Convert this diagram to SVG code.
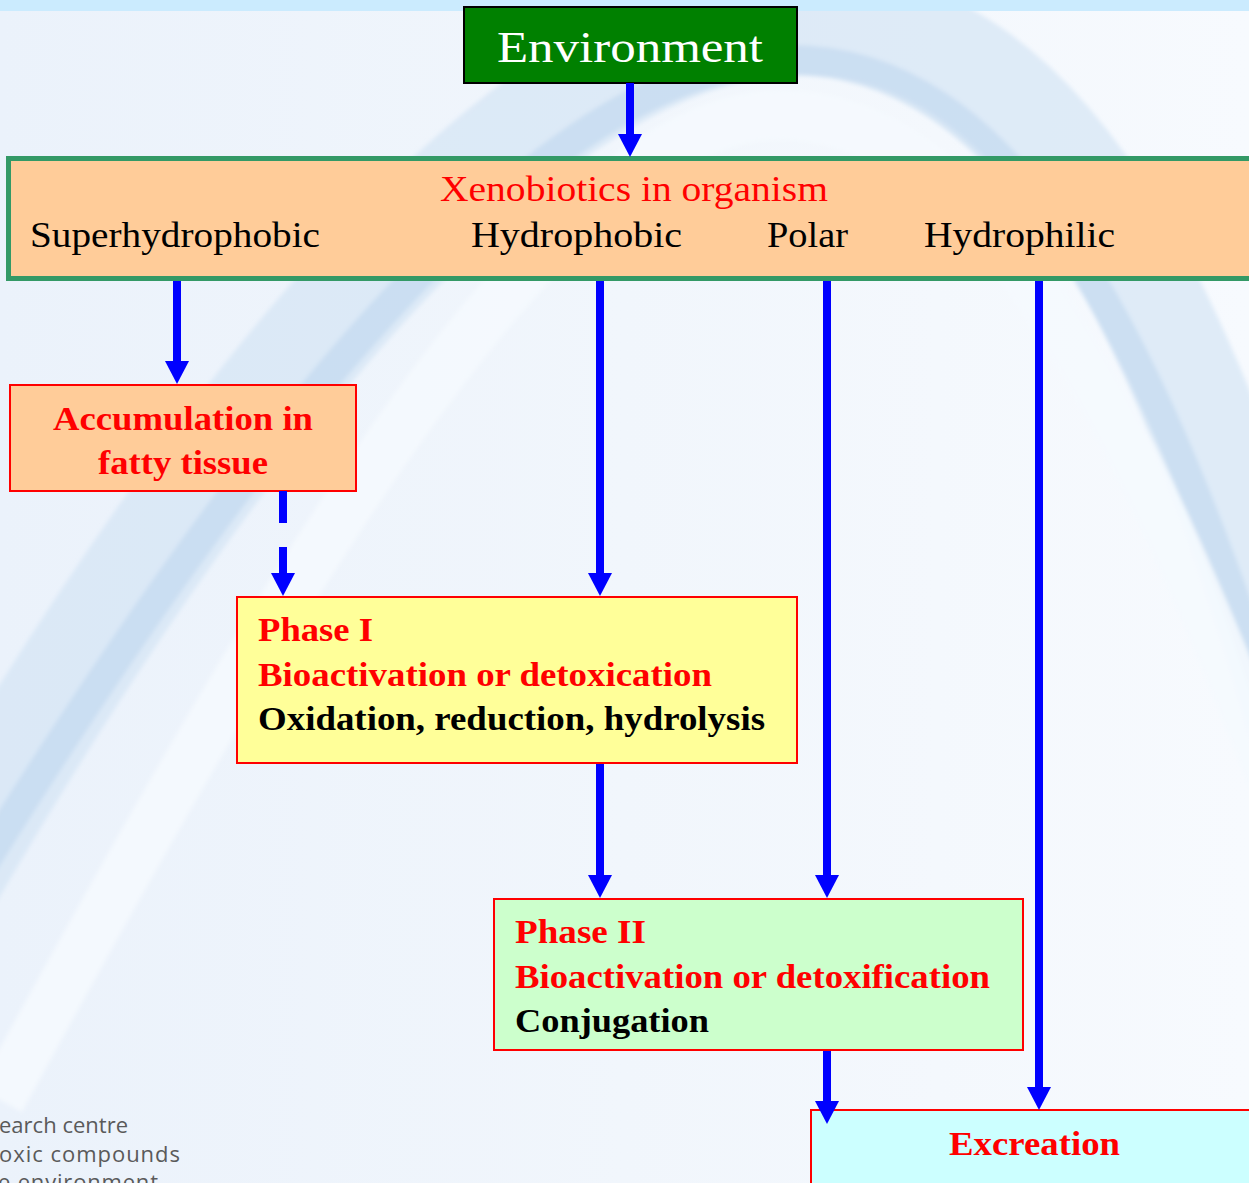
<svg xmlns="http://www.w3.org/2000/svg" width="1249" height="1183" viewBox="0 0 1249 1183">
  <defs>
    <linearGradient id="bg" x1="0" y1="0" x2="1" y2="0">
      <stop offset="0" stop-color="#EBF2FB"/>
      <stop offset="0.5" stop-color="#F1F6FC"/>
      <stop offset="1" stop-color="#F7FAFE"/>
    </linearGradient>
    <!-- arrowhead: base sits 3px behind the line end, tip 20px past it -->
    <marker id="head" viewBox="0 0 23 24" refX="3" refY="12" markerWidth="23" markerHeight="24" markerUnits="userSpaceOnUse" orient="auto">
      <path d="M0,0 L23,12 L0,24 Z" fill="#0000FF"/>
    </marker>
    <filter id="soft" x="-10%" y="-10%" width="120%" height="120%">
      <feGaussianBlur stdDeviation="2"/>
    </filter>
  </defs>
  <style>
    .serif { font-family: "Liberation Serif", "Times New Roman", serif; }
    .hdr { font-size: 35px; fill: #000000; }
    .bold { font-weight: bold; font-size: 34px; }
    .red { fill: #FF0000; }
    .blk { fill: #000000; }
    .box { stroke: #FF0000; stroke-width: 2; }
    .wire { stroke: #0000FF; stroke-width: 8; fill: none; }
    .foot { font-family: "Open Sans", "Liberation Sans", sans-serif; font-size: 22px; fill: #5A5A5A; }
  </style>

  <!-- backdrop -->
  <rect x="0" y="0" width="1249" height="1183" fill="url(#bg)"/>
  <g id="swoosh" fill="none" filter="url(#soft)">
    <path d="M-150,1050 C150,500 500,20 800,20 C1050,20 1200,300 1350,900" stroke="#D3E4F5" stroke-width="110" opacity="0.65"/>
    <path d="M-100,1000 C200,500 520,60 790,60 C1000,60 1150,300 1300,800" stroke="#B9D3EE" stroke-width="30" opacity="0.5"/>
    <path d="M0,1100 C300,550 560,115 780,115 C960,115 1100,330 1280,800" stroke="#F5F9FE" stroke-width="50" opacity="0.9"/>
  </g>
  <rect x="0" y="0" width="1249" height="11" fill="#CBEBFE"/>

  <!-- footer caption -->
  <g id="footer">
    <text class="foot" x="-1" y="1133" textLength="129">earch centre</text>
    <text class="foot" x="-1" y="1162" textLength="181">oxic compounds</text>
    <text class="foot" x="-2" y="1190" textLength="160">e environment</text>
  </g>

  <!-- nodes -->
  <g id="environment">
    <rect x="464" y="7" width="333" height="76" fill="#008000" stroke="#000000" stroke-width="2"/>
    <text class="serif" x="497" y="62" font-size="44" fill="#FFFFFF" textLength="266" lengthAdjust="spacingAndGlyphs">Environment</text>
  </g>

  <g id="xenobiotics">
    <rect x="8.5" y="158.5" width="1260" height="120" fill="#FFCC99" stroke="#339966" stroke-width="5"/>
    <text class="serif red" x="440" y="201" font-size="35" textLength="388" lengthAdjust="spacingAndGlyphs">Xenobiotics in organism</text>
    <text class="serif hdr" x="30" y="247" textLength="290" lengthAdjust="spacingAndGlyphs">Superhydrophobic</text>
    <text class="serif hdr" x="471" y="247" textLength="211" lengthAdjust="spacingAndGlyphs">Hydrophobic</text>
    <text class="serif hdr" x="767" y="247" textLength="81" lengthAdjust="spacingAndGlyphs">Polar</text>
    <text class="serif hdr" x="924" y="247" textLength="191" lengthAdjust="spacingAndGlyphs">Hydrophilic</text>
  </g>

  <g id="accumulation">
    <rect class="box" x="10" y="385" width="346" height="106" fill="#FFCC99"/>
    <text class="serif bold red" x="53" y="430" textLength="260" lengthAdjust="spacingAndGlyphs">Accumulation in</text>
    <text class="serif bold red" x="98" y="474" textLength="170" lengthAdjust="spacingAndGlyphs">fatty tissue</text>
  </g>

  <g id="phase1">
    <rect class="box" x="237" y="597" width="560" height="166" fill="#FFFF99"/>
    <text class="serif bold red" x="258" y="641" textLength="115" lengthAdjust="spacingAndGlyphs">Phase I</text>
    <text class="serif bold red" x="258" y="686" textLength="454" lengthAdjust="spacingAndGlyphs">Bioactivation or detoxication</text>
    <text class="serif bold blk" x="258" y="730" textLength="507" lengthAdjust="spacingAndGlyphs">Oxidation, reduction, hydrolysis</text>
  </g>

  <g id="phase2">
    <rect class="box" x="494" y="899" width="529" height="151" fill="#CCFFCC"/>
    <text class="serif bold red" x="515" y="943" textLength="131" lengthAdjust="spacingAndGlyphs">Phase II</text>
    <text class="serif bold red" x="515" y="988" textLength="475" lengthAdjust="spacingAndGlyphs">Bioactivation or detoxification</text>
    <text class="serif bold blk" x="515" y="1032" textLength="194" lengthAdjust="spacingAndGlyphs">Conjugation</text>
  </g>

  <g id="excretion">
    <rect class="box" x="811" y="1110" width="460" height="100" fill="#CCFFFF"/>
    <text class="serif bold red" x="949" y="1155" textLength="171" lengthAdjust="spacingAndGlyphs">Excreation</text>
  </g>

  <!-- connectors, drawn over the boxes so heads that overlap a border stay visible -->
  <g id="connectors">
    <line class="wire" x1="630" y1="83" x2="630" y2="137" marker-end="url(#head)"/>
    <line class="wire" x1="177" y1="281" x2="177" y2="364" marker-end="url(#head)"/>
    <line class="wire" x1="600" y1="281" x2="600" y2="576" marker-end="url(#head)"/>
    <line class="wire" x1="827" y1="281" x2="827" y2="878" marker-end="url(#head)"/>
    <line class="wire" x1="1039" y1="281" x2="1039" y2="1090" marker-end="url(#head)"/>
    <line class="wire" x1="283" y1="491" x2="283" y2="576" stroke-dasharray="32 24" marker-end="url(#head)"/>
    <line class="wire" x1="600" y1="764" x2="600" y2="878" marker-end="url(#head)"/>
    <line class="wire" x1="827" y1="1051" x2="827" y2="1104" marker-end="url(#head)"/>
  </g>
</svg>
